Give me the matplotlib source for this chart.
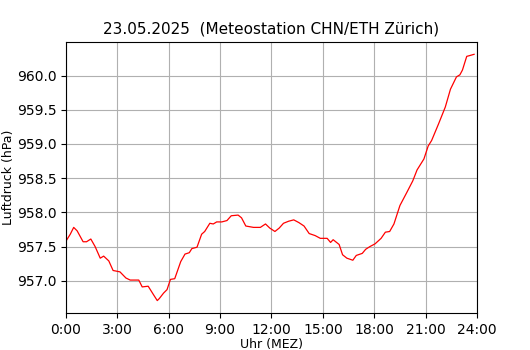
import matplotlib
matplotlib.use("Agg")
import matplotlib.pyplot as plt

# Stunde (MEZ) und Luftdruck in hPa
hours = [0.0, 0.25, 0.45, 0.65, 1.0, 1.2, 1.45, 1.7, 2.0, 2.2, 2.5, 2.75, 3.15, 3.5,
         3.75, 4.25, 4.45, 4.8, 5.1, 5.33, 5.45, 5.7, 5.9, 6.1, 6.35, 6.7, 6.95, 7.2,
         7.35, 7.65, 7.92, 8.1, 8.4, 8.6, 8.8, 9.1, 9.4, 9.65, 10.05, 10.25, 10.5,
         10.95, 11.35, 11.65, 11.9, 12.2, 12.45, 12.7, 13.0, 13.3, 13.6, 13.9, 14.2,
         14.55, 14.85, 15.25, 15.45, 15.6, 15.95, 16.15, 16.4, 16.75, 16.95, 17.3,
         17.5, 17.75, 18.05, 18.4, 18.65, 18.9, 19.15, 19.5, 19.9, 20.25, 20.5, 20.9,
         21.15, 21.35, 21.75, 22.15, 22.45, 22.8, 23.0, 23.15, 23.4, 23.55, 23.83]
pressure = [957.58, 957.68, 957.78, 957.73, 957.57, 957.57, 957.61, 957.50, 957.33,
            957.36, 957.29, 957.15, 957.13, 957.04, 957.01, 957.01, 956.91, 956.92,
            956.80, 956.71, 956.74, 956.82, 956.87, 957.02, 957.03, 957.28, 957.39,
            957.41, 957.47, 957.49, 957.68, 957.72, 957.84, 957.83, 957.86, 957.86,
            957.88, 957.95, 957.96, 957.92, 957.80, 957.78, 957.78, 957.83, 957.77,
            957.72, 957.77, 957.84, 957.87, 957.89, 957.85, 957.80, 957.69, 957.66,
            957.62, 957.62, 957.56, 957.60, 957.53, 957.38, 957.33, 957.30, 957.37,
            957.40, 957.46, 957.50, 957.54, 957.62, 957.71, 957.72, 957.83, 958.10,
            958.29, 958.46, 958.62, 958.78, 958.97, 959.05, 959.29, 959.54, 959.80,
            959.98, 960.01, 960.08, 960.28, 960.29, 960.31]

xticks = [0, 3, 6, 9, 12, 15, 18, 21, 24]
xlabels = ["0:00", "3:00", "6:00", "9:00", "12:00", "15:00", "18:00", "21:00", "24:00"]

fig = plt.figure(figsize=(5.3, 3.5), dpi=100)
ax = fig.add_axes([0.1245, 0.106, 0.7755, 0.774])
ax.plot(hours, pressure, color="red", linewidth=0.9)
ax.set_xlim(0, 24)
ax.set_xticks(xticks)
ax.set_xticklabels(xlabels)
ax.set_yticks([957.0, 957.5, 958.0, 958.5, 959.0, 959.5, 960.0])
ax.yaxis.set_major_formatter(matplotlib.ticker.FormatStrFormatter("%.1f"))
ax.grid(True)
ax.set_xlabel("Uhr (MEZ)", fontsize=9, labelpad=1)
ax.set_ylabel("Luftdruck (hPa)", fontsize=9)
ax.yaxis.set_label_coords(-0.125, 0.5)
ax.set_title("23.05.2025  (Meteostation CHN/ETH Zürich)", fontsize=11)

fig.savefig("out.png", dpi=100)
